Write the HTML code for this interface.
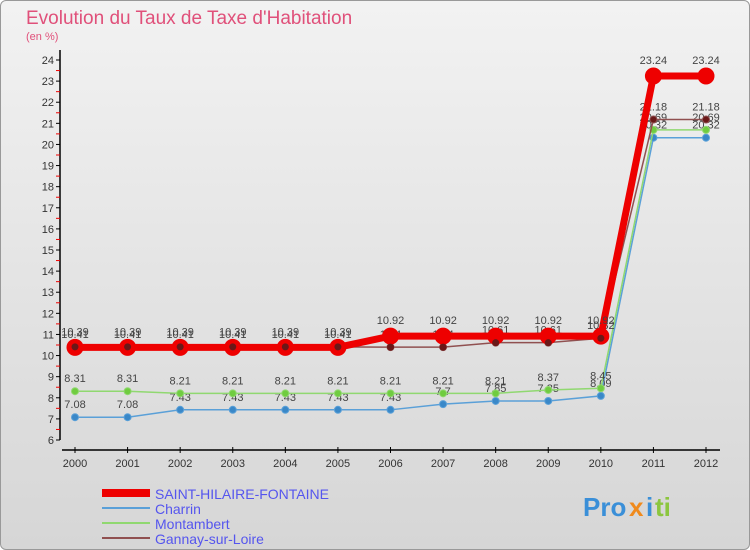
<!DOCTYPE html>
<html><head><meta charset="utf-8"><style>
body{margin:0;width:750px;height:550px;overflow:hidden;font-family:"Liberation Sans",sans-serif}
#wrap{position:absolute;left:0;top:0;width:748px;height:548px;border:1px solid #999;border-radius:6px;background:linear-gradient(#f2f2f2,#d6d6d6)}
</style></head><body>
<div id="wrap"></div>
<svg id="c" width="750" height="550" style="position:absolute;left:0;top:0">
<text x="26" y="24" font-size="19" fill="#e0507a">Evolution du Taux de Taxe d'Habitation</text>
<text x="26" y="40" font-size="11" fill="#e0507a">(en %)</text>
<g id="g"></g>
<g font-size="26" font-weight="bold">
<text x="583" y="516" fill="#3a8fd8">Pro</text><text x="629" y="516" fill="#f08a1c">x</text><text x="646" y="516" fill="#3a8fd8">i</text><text x="655" y="516" fill="#8cc63f">ti</text></g>
</svg>
<script>
const years=[2000,2001,2002,2003,2004,2005,2006,2007,2008,2009,2010,2011,2012];
const yTicks=[6,7,8,9,10,11,12,13,14,15,16,17,18,19,20,21,22,23,24];
const sSaint=[10.39,10.39,10.39,10.39,10.39,10.39,10.92,10.92,10.92,10.92,10.92,23.24,23.24];
const sCharrin=[7.08,7.08,7.43,7.43,7.43,7.43,7.43,7.7,7.85,7.85,8.09,20.32,20.32];
const sMont=[8.31,8.31,8.21,8.21,8.21,8.21,8.21,8.21,8.21,8.37,8.45,20.69,20.69];
const sGannay=[10.41,10.41,10.41,10.41,10.41,10.41,10.4,10.4,10.61,10.61,10.82,21.18,21.18];
const names=["SAINT-HILAIRE-FONTAINE","Charrin","Montambert","Gannay-sur-Loire"];
const NS="http://www.w3.org/2000/svg";
const g=document.getElementById('g');
const X=i=>75+i*(706-75)/12;
const Y=v=>440-(v-6)*(380/18);
function el(t,a,p){const e=document.createElementNS(NS,t);for(const k in a)e.setAttribute(k,a[k]);(p||g).appendChild(e);return e;}
let e;
e=el('line',{x1:60,y1:50,x2:60,y2:440,stroke:'#000','stroke-width':1.5});


e=el('line',{x1:62,y1:450,x2:720,y2:450,stroke:'#000','stroke-width':1.5});


yTicks.forEach(v=>{el('line',{x1:56,y1:Y(v),x2:60,y2:Y(v),stroke:'#000'});
 if(v<24)el('line',{x1:56,y1:Y(v+0.5),x2:60,y2:Y(v+0.5),stroke:'#e00'});
 e=el('text',{x:54,y:Y(v)+4,'font-size':11,'text-anchor':'end',fill:'#333'});e.textContent=v;
 
 });
years.forEach((y,i)=>{el('line',{x1:X(i),y1:447,x2:X(i),y2:453,stroke:'#000'});
 e=el('text',{x:X(i),y:467,'font-size':11,'text-anchor':'middle',fill:'#333'});e.textContent=y;
 
 });
function series(d,col,dot,w,r,name,labOff){
 const pl=el('polyline',{points:d.map((v,i)=>X(i)+','+Y(v)).join(' '),fill:'none',stroke:col,'stroke-width':w});
 
 
 d.forEach((v,i)=>{const c=el('circle',{cx:X(i),cy:Y(v),r:r,fill:dot,stroke:col,'stroke-width':r>4?3:1});
  
  
  const t=el('text',{x:X(i),y:Y(v)-labOff,'font-size':11,'text-anchor':'middle',fill:'#444'});t.textContent=String(v);
  
  });
}
series(sCharrin,'#5aa0d8','#3a88c8',1.5,3.5,'charrin',9);
series(sMont,'#90d870','#70cc40',1.5,3.5,'montambert',9);
series(sGannay,'#905050','#6a1818',1.5,3.5,'gannay',9);
series(sSaint,'#ee0000','#ee0000',7,7,'saint-hilaire',12);
sSaint.forEach((v,i)=>{if(i<11)el('circle',{cx:X(i),cy:Y(sGannay[i]),r:3.5,fill:'#6a1818'});});
const lc=['#ee0000','#5aa0d8','#90d870','#905050'],lw=[8,2,2,2];
names.forEach((n,k)=>{const y=493+k*15;
 e=el('line',{x1:102,y1:y,x2:150,y2:y,stroke:lc[k],'stroke-width':lw[k]});
 
 
 e=el('text',{x:155,y:y+6,'font-size':14,fill:'#5555ee'});e.textContent=n;
 
 });
</script>
</body></html>
